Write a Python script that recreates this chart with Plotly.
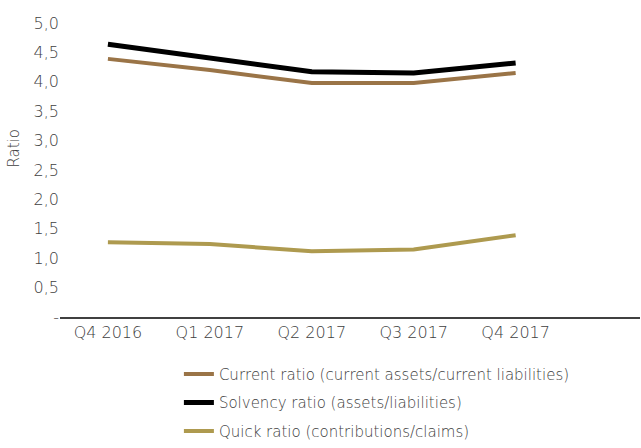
import plotly.graph_objects as go

quarters = ["Q4 2016", "Q1 2017", "Q2 2017", "Q3 2017", "Q4 2017"]
current_ratio = [4.39, 4.20, 3.98, 3.98, 4.15]
solvency_ratio = [4.64, 4.41, 4.17, 4.15, 4.32]
quick_ratio = [1.27, 1.24, 1.12, 1.15, 1.39]

y_ticks = [0, 0.5, 1, 1.5, 2, 2.5, 3, 3.5, 4, 4.5, 5]
y_tick_labels = ["-", "0,5", "1,0", "1,5", "2,0", "2,5", "3,0", "3,5", "4,0", "4,5", "5,0"]

font_family = "DejaVu Sans"
text_color = "#404040"

fig = go.Figure()
fig.add_trace(go.Scatter(
    x=quarters, y=current_ratio, mode="lines",
    name="Current ratio (current assets/current liabilities)",
    legendgroup="current",
    line=dict(color="#9A7447", width=4),
))
fig.add_trace(go.Scatter(
    x=quarters, y=solvency_ratio, mode="lines",
    name="Solvency ratio (assets/liabilities)",
    legendgroup="solvency",
    line=dict(color="#000000", width=5),
))
fig.add_trace(go.Scatter(
    x=quarters, y=quick_ratio, mode="lines",
    name="Quick ratio (contributions/claims)",
    legendgroup="quick",
    line=dict(color="#AE9A4F", width=4),
))

fig.update_layout(
    width=641, height=448,
    margin=dict(l=60, r=1, t=23, b=130),
    paper_bgcolor="white", plot_bgcolor="white",
    font=dict(family=font_family, size=16, color=text_color, weight=200),
    showlegend=True,
    legend=dict(
        orientation="v", x=0.205, xanchor="left", y=-0.135, yanchor="top",
        font=dict(size=15, color=text_color, family=font_family, weight=200),
        traceorder="grouped", tracegroupgap=6,
        itemwidth=30, bgcolor="rgba(0,0,0,0)",
    ),
    xaxis=dict(
        type="category", range=[-0.47, 5.22],
        showgrid=False, zeroline=False,
        showline=True, linecolor="#404040", linewidth=1.5,
        ticks="", tickfont=dict(size=16),
    ),
    yaxis=dict(
        range=[0, 5], tickvals=y_ticks, ticktext=y_tick_labels,
        showgrid=False, zeroline=False, showline=False,
        ticks="", tickfont=dict(size=16),
    ),
    annotations=[dict(
        text="Ratio", textangle=-90, showarrow=False,
        xref="paper", yref="paper", x=-0.08, xanchor="center",
        y=0.575, yanchor="middle",
        font=dict(size=15, color=text_color, family=font_family, weight=200),
    )],
)

fig.write_html("out.html")
